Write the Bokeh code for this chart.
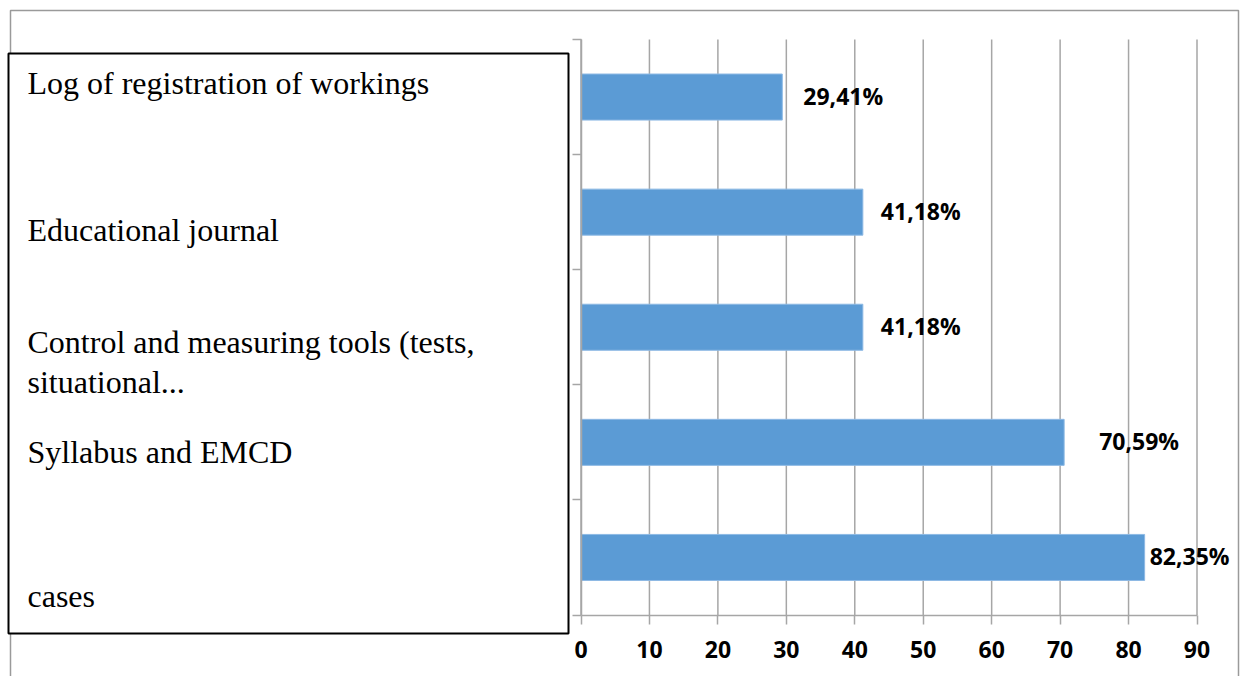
from bokeh.plotting import figure
from bokeh.models import ColumnDataSource, Range1d, FixedTicker, LabelSet, BoxAnnotation
from bokeh.core.properties import value
from bokeh.embed import file_html
from bokeh.resources import INLINE

# ---- data ----
categories = [
    "Log of registration of workings",
    "Educational journal",
    "Control and measuring tools (tests,\nsituational...",
    "Syllabus and EMCD",
    "cases",
]
values = [29.41, 41.18, 41.18, 70.59, 82.35]
value_labels = ["29,41%", "41,18%", "41,18%", "70,59%", "82,35%"]
x_ticks = [0, 10, 20, 30, 40, 50, 60, 70, 80, 90]
x_max = 90

# ---- layout / style (screen px) ----
W, H = 1240, 676
CHART_L, CHART_R, CHART_T, CHART_B = 580.5, 1196.5, 39.0, 614.5
label_gap = [21, 18, 18, 35, 5]           # data-label distance from bar end
cat_dy = [32, 0, 3.5, 8, -21]             # category label shift inside the box

n = len(categories)
pos = [n - i - 0.5 for i in range(n)]

# ranges chosen so the plotting area [0, x_max] x [0, n] lands on the chart rectangle
ux = (CHART_R - CHART_L) / x_max
uy = (CHART_B - CHART_T) / n
x_range = Range1d(-CHART_L / ux, x_max + (W - CHART_R) / ux)
y_range = Range1d(-(H - CHART_B) / uy, n + CHART_T / uy)

src = ColumnDataSource(dict(y=pos, v=values, lab=value_labels, gap=label_gap))
cat_src = ColumnDataSource(dict(x=[27] * n, y=pos, cat=categories, dy=cat_dy))

p = figure(width=W, height=H, x_range=x_range, y_range=y_range,
           output_backend="svg", toolbar_location=None,
           min_border_left=0, min_border_right=0, min_border_top=0, min_border_bottom=0,
           outline_line_color=None, background_fill_color="white", border_fill_color="white")

grid_col = "#a6a6a6"
p.xgrid.visible = False
p.ygrid.visible = False

# vertical grid lines at the x ticks, spanning the category band
p.segment(x0=x_ticks, x1=x_ticks, y0=[0] * len(x_ticks), y1=[n] * len(x_ticks),
          line_color=grid_col, line_width=1.5)

xa = p.xaxis[0]
xa.fixed_location = 0
xa.bounds = (0, x_max)
xa.ticker = FixedTicker(ticks=x_ticks)
xa.axis_line_color = grid_col
xa.axis_line_width = 1.5
xa.major_tick_line_color = grid_col
xa.major_tick_line_width = 1.5
xa.major_tick_out = 9
xa.major_tick_in = 0
xa.minor_tick_line_color = None
xa.major_label_standoff = 17
xa.major_label_text_font = "Open Sans"
xa.major_label_text_font_style = "bold"
xa.major_label_text_font_size = "23px"
xa.major_label_text_color = "black"

ya = p.yaxis[0]
ya.fixed_location = 0
ya.bounds = (0, n)
ya.ticker = FixedTicker(ticks=list(range(n + 1)))
ya.axis_line_color = grid_col
ya.axis_line_width = 1.5
ya.major_tick_line_color = grid_col
ya.major_tick_line_width = 1.5
ya.major_tick_out = 9
ya.major_tick_in = 0
ya.minor_tick_line_color = None
ya.major_label_overrides = {i: "" for i in range(n + 1)}

p.hbar(y="y", left=0, right="v", height=0.4, source=src,
       fill_color="#5b9bd5", line_color="#8db9e4", line_width=1)

p.add_layout(LabelSet(x="v", y="y", text="lab", x_offset="gap", y_offset=1, source=src,
                      text_font=value("Open Sans"), text_font_style="bold",
                      text_font_size="23px", text_color="black",
                      text_align="left", text_baseline="middle"))

# outer chart border and the category text box
p.add_layout(BoxAnnotation(left=10, right=1238, top=10, bottom=H + 50,
                           left_units="canvas", right_units="canvas",
                           top_units="canvas", bottom_units="canvas",
                           fill_alpha=0, line_color="#9a9a9a", line_width=1.5, line_alpha=1))
p.add_layout(BoxAnnotation(left=8, right=568, top=53, bottom=633,
                           left_units="canvas", right_units="canvas",
                           top_units="canvas", bottom_units="canvas",
                           fill_color="white", fill_alpha=1, line_color="black",
                           line_width=2, line_alpha=1))

p.add_layout(LabelSet(x="x", y="y", x_units="canvas", text="cat", y_offset="dy", source=cat_src,
                      text_font=value("Liberation Serif"), text_font_size="32px",
                      text_color="black", text_align="left", text_baseline="top",
                      text_line_height=1.125))

open("out.html", "w").write(file_html(p, INLINE))
